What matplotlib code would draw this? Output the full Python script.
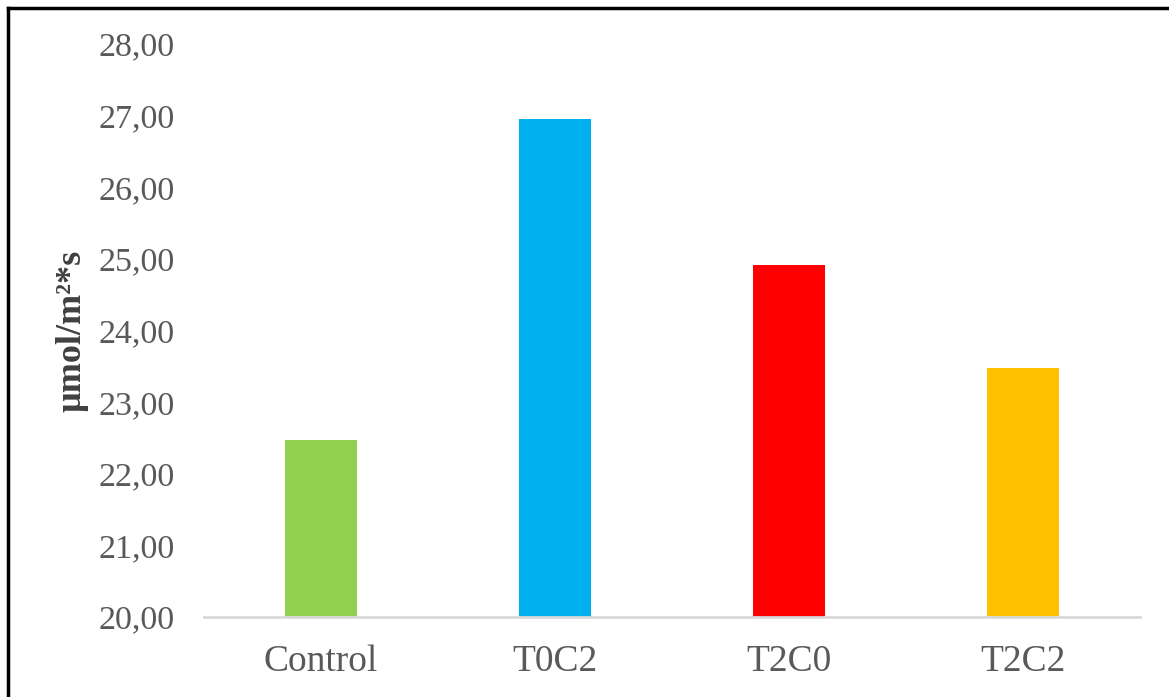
import matplotlib.pyplot as plt
from matplotlib.lines import Line2D
from matplotlib.ticker import FuncFormatter

categories = ['Control', 'T0C2', 'T2C0', 'T2C2']
values = [22.47, 26.95, 24.92, 23.47]
colors = ['#92D050', '#00B0F0', '#FF0000', '#FFC000']

plt.rcParams['font.family'] = ['Liberation Serif', 'DejaVu Serif']

fig = plt.figure(figsize=(11.69, 6.97), dpi=100)
ax = fig.add_axes([0.1745, 0.1148, 0.8005, 0.8221])

ax.bar(range(len(categories)), values, width=0.31, color=colors, bottom=0)
ax.set_ylim(20, 28)
ax.set_xlim(-0.5, len(categories) - 0.5)
ax.set_yticks(range(20, 29))
ax.yaxis.set_major_formatter(FuncFormatter(lambda v, p: f'{v:.2f}'.replace('.', ',')))
ax.set_xticks(range(len(categories)))
ax.set_xticklabels(categories)

for s in ['top', 'right', 'left']:
    ax.spines[s].set_visible(False)
ax.spines['bottom'].set_color('#d9d9d9')
ax.spines['bottom'].set_linewidth(2)

ax.tick_params(axis='y', length=0, pad=21, labelsize=24.5, labelcolor='#595959')
ax.tick_params(axis='x', length=0, pad=20, labelsize=27, labelcolor='#595959')

ax.set_ylabel('µmol/m²*s', fontsize=26, fontweight='bold', color='#404040')
ax.yaxis.set_label_coords(-0.123, 0.5)

# frame lines on top and left of the picture
fig.add_artist(Line2D([8 / 1169, 8 / 1169], [0, 1 - 8 / 697], color='black', lw=2.5, transform=fig.transFigure))
fig.add_artist(Line2D([8 / 1169, 1], [1 - 8 / 697, 1 - 8 / 697], color='black', lw=2.5, transform=fig.transFigure))

fig.savefig('out.png', dpi=100)
